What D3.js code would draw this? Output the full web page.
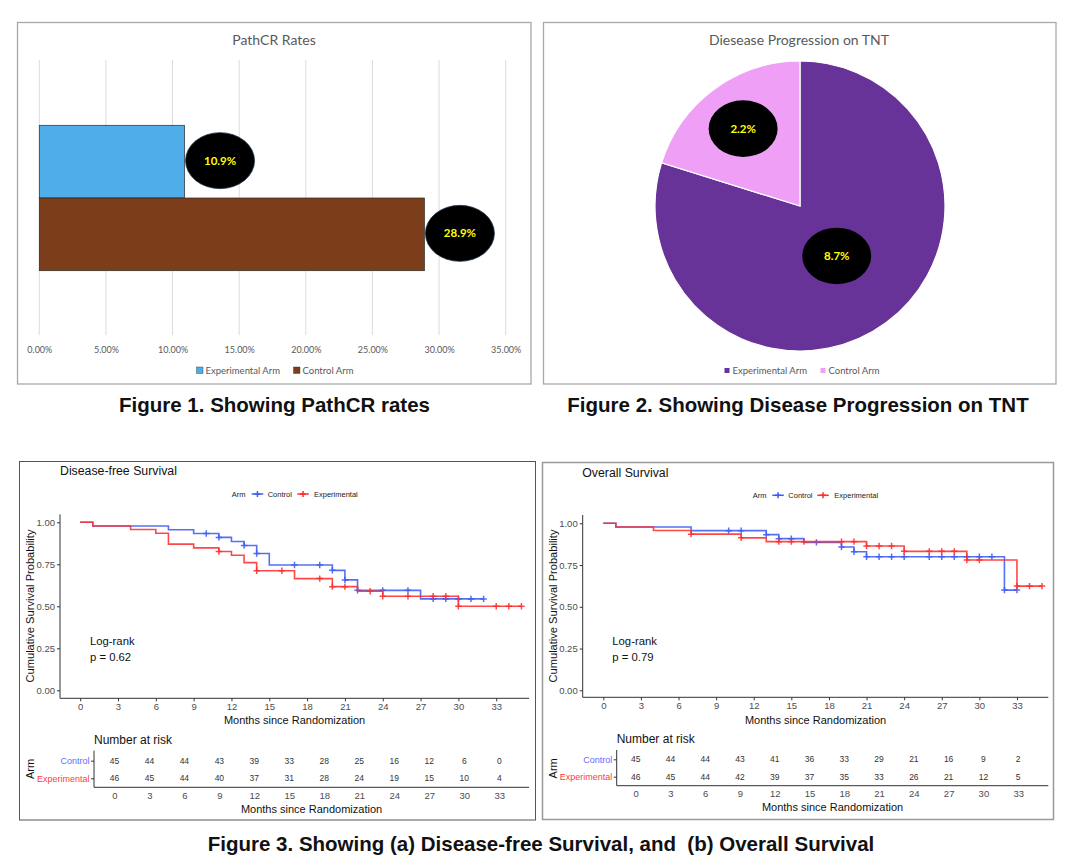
<!DOCTYPE html>
<html>
<head>
<meta charset="utf-8">
<script src="https://cdn.jsdelivr.net/npm/d3@7"></script>
<style>
	body { margin: 0; background: #fff; }
	svg { display: block; }
</style>
</head>
<body>
<script>
// ---- data ----
var pcrArms = ["Experimental Arm", "Control Arm"];
var pcrRates = [0.109, 0.289];
var pcrTicks = [0, 0.05, 0.10, 0.15, 0.20, 0.25, 0.30, 0.35];

var progArms = ["Experimental Arm", "Control Arm"];
var progRates = [8.7, 2.2];

var armNames = ["Control", "Experimental"];
var monthTicks = [0, 3, 6, 9, 12, 15, 18, 21, 24, 27, 30, 33];
var survTicks = [0, 0.25, 0.5, 0.75, 1];

// disease-free survival, step times / survival / censor times
var dfsCtrlTimes = [0, 1, 7, 9, 11, 12, 13, 14, 15, 20, 21, 22, 27, 32];
var dfsCtrlSurv = [1.0, 0.978, 0.956, 0.933, 0.910, 0.886, 0.862, 0.814, 0.746, 0.714, 0.657, 0.595, 0.544, 0.544];
var dfsCtrlCens = [10, 11, 13, 14, 17, 19, 20, 21, 22, 24, 26, 28, 29, 30, 31, 32];
var dfsExpTimes = [0, 1, 4, 6, 7, 9, 11, 12, 13, 14, 17, 20, 22, 24, 30, 35];
var dfsExpSurv = [1.0, 0.978, 0.957, 0.935, 0.870, 0.848, 0.826, 0.804, 0.760, 0.712, 0.665, 0.617, 0.590, 0.560, 0.500, 0.500];
var dfsExpCens = [11, 14, 16, 19, 20, 21, 23, 24, 26, 28, 29, 30, 33, 34, 35];
var dfsRiskCtrl = [45, 44, 44, 43, 39, 33, 28, 25, 16, 12, 6, 0];
var dfsRiskExp = [46, 45, 44, 40, 37, 31, 28, 24, 19, 15, 10, 4];

// overall survival
var osCtrlTimes = [0, 1, 7, 13, 14, 16, 19, 20, 21, 32, 33];
var osCtrlSurv = [1.0, 0.978, 0.956, 0.932, 0.908, 0.886, 0.858, 0.830, 0.800, 0.600, 0.600];
var osCtrlCens = [10, 11, 13, 14, 15, 17, 19, 20, 21, 22, 23, 24, 26, 27, 28, 29, 30, 31, 32, 33];
var osExpTimes = [0, 1, 4, 7, 11, 13, 21, 24, 29, 33, 35];
var osExpSurv = [1.0, 0.978, 0.957, 0.935, 0.913, 0.890, 0.864, 0.832, 0.780, 0.624, 0.624];
var osExpCens = [7, 11, 14, 15, 16, 19, 20, 21, 22, 23, 24, 26, 27, 28, 29, 30, 33, 34, 35];
var osRiskCtrl = [45, 44, 44, 43, 41, 36, 33, 29, 21, 16, 9, 2];
var osRiskExp = [46, 45, 44, 42, 39, 37, 35, 33, 26, 21, 12, 5];

var xlFont = "Lato, 'Open Sans', sans-serif";
var rFont = "'Liberation Sans', Arial, sans-serif";
var armColors = ["#3d5cf2", "#ff2e2e"];
var riskLabelColors = ["#5f6cff", "#ff3a3a"];

var svg = d3.select("body").append("svg")
	.attr("width", 1080)
	.attr("height", 868);

svg.append("rect").attr("width", 1080).attr("height", 868).attr("fill", "#fff");

// panel frames
svg.append("rect").attr("x", 17.5).attr("y", 22.5).attr("width", 513.5).attr("height", 361.5)
	.attr("fill", "none").attr("stroke", "#a8a8a8").attr("stroke-width", 1.3);
svg.append("rect").attr("x", 543.5).attr("y", 22.5).attr("width", 512.5).attr("height", 361.5)
	.attr("fill", "none").attr("stroke", "#a8a8a8").attr("stroke-width", 1.3);
svg.append("rect").attr("x", 19.5).attr("y", 461.5).attr("width", 516).attr("height", 358.5)
	.attr("fill", "none").attr("stroke", "#555").attr("stroke-width", 1);
svg.append("rect").attr("x", 542.5).attr("y", 462.5).attr("width", 511).attr("height", 357)
	.attr("fill", "none").attr("stroke", "#9a9a9a").attr("stroke-width", 1.5);

// ---- Figure 1: PathCR bar chart ----
var g1 = svg.append("g");
var x1 = d3.scaleLinear().domain([0, 0.35]).range([39.3, 505.7]);
var y1 = d3.scaleBand().domain(pcrArms).range([125.3, 270.7]);
var barColors = d3.scaleOrdinal().domain(pcrArms).range(["#4fadea", "#7b3d1a"]);

g1.append("text").attr("x", 274).attr("y", 45)
	.attr("text-anchor", "middle").attr("font-family", xlFont).attr("font-size", 14)
	.attr("fill", "#595959").text("PathCR Rates");

g1.selectAll("line.grid").data(pcrTicks).enter().append("line")
	.attr("x1", function(d){ return x1(d); }).attr("x2", function(d){ return x1(d); })
	.attr("y1", 60).attr("y2", 335)
	.attr("stroke", "#dcdcdc").attr("stroke-width", 1);

var ax1 = g1.append("g").attr("transform", "translate(0,344)")
	.call(d3.axisBottom(x1).tickValues(pcrTicks).tickFormat(d3.format(".2%")).tickSize(0));
ax1.select(".domain").remove();
ax1.selectAll("text").attr("font-family", xlFont).attr("font-size", 9).attr("fill", "#595959");

g1.selectAll("rect.bar").data(pcrRates).enter().append("rect")
	.attr("x", x1(0))
	.attr("y", function(d, i){ return y1(pcrArms[i]); })
	.attr("width", function(d){ return x1(d) - x1(0); })
	.attr("height", y1.bandwidth())
	.attr("fill", function(d, i){ return barColors(pcrArms[i]); })
	.attr("stroke", "#2a2a2a").attr("stroke-width", 0.7);

var lab1 = g1.selectAll("g.lab").data(pcrRates).enter().append("g")
	.attr("transform", function(d, i){
		return "translate(" + (x1(d) + 35.5) + "," + (y1(pcrArms[i]) + y1.bandwidth() / 2 - 1) + ")";
	});
lab1.append("ellipse").attr("rx", 34.5).attr("ry", 28).attr("fill", "#000")
	.attr("stroke", "#1f3550").attr("stroke-width", 0.8);
lab1.append("text").attr("text-anchor", "middle").attr("dy", "0.35em")
	.attr("font-family", xlFont).attr("font-weight", "bold").attr("font-size", 11.5)
	.attr("fill", "#ffff00").text(function(d){ return d3.format(".1%")(d); });

var leg1 = g1.selectAll("g.leg").data(pcrArms).enter().append("g")
	.attr("transform", function(d, i){ return "translate(" + [196.5, 293.5][i] + ",370.5)"; });
leg1.append("rect").attr("x", 0).attr("y", -3.5).attr("width", 6.5).attr("height", 6.5)
	.attr("fill", function(d){ return barColors(d); }).attr("stroke", "#333").attr("stroke-width", 0.4);
leg1.append("text").attr("x", 9).attr("dy", "0.35em")
	.attr("font-family", xlFont).attr("font-size", 9.5).attr("fill", "#595959")
	.text(function(d){ return d; });

svg.append("text").attr("x", 274.5).attr("y", 411.5)
	.attr("text-anchor", "middle").attr("font-family", rFont).attr("font-weight", "bold")
	.attr("font-size", 20.5).attr("fill", "#111").text("Figure 1. Showing PathCR rates");

// ---- Figure 2: pie ----
var g2 = svg.append("g");
var pieColors = d3.scaleOrdinal().domain(progArms).range(["#683398", "#efa0f6"]);
var pieR = 145;
var pieG = g2.append("g").attr("transform", "translate(800,206)");
var slices = d3.pie().sort(null).value(function(d){ return d; })(progRates);
var arc2 = d3.arc().innerRadius(0).outerRadius(pieR);
var labelRadius = [62, 96];

g2.append("text").attr("x", 799).attr("y", 45)
	.attr("text-anchor", "middle").attr("font-family", xlFont).attr("font-size", 14)
	.attr("fill", "#595959").text("Diesease Progression on TNT");

pieG.selectAll("path").data(slices).enter().append("path")
	.attr("d", arc2)
	.attr("fill", function(d, i){ return pieColors(progArms[i]); })
	.attr("stroke", "#fff").attr("stroke-width", 1.2);

var lab2 = pieG.selectAll("g.lab").data(slices).enter().append("g")
	.attr("transform", function(d, i){
		var la = d3.arc().innerRadius(labelRadius[i]).outerRadius(labelRadius[i]);
		return "translate(" + la.centroid(d) + ")";
	});
lab2.append("ellipse").attr("rx", 34.5).attr("ry", 28.3).attr("fill", "#000");
lab2.append("text").attr("text-anchor", "middle").attr("dy", "0.35em")
	.attr("font-family", xlFont).attr("font-weight", "bold").attr("font-size", 11.5)
	.attr("fill", "#ffff00").text(function(d){ return d.data + "%"; });

var leg2 = g2.selectAll("g.leg").data(progArms).enter().append("g")
	.attr("transform", function(d, i){ return "translate(" + [724.5, 820.5][i] + ",370.5)"; });
leg2.append("rect").attr("x", 0).attr("y", -2.5).attr("width", 5).attr("height", 5)
	.attr("fill", function(d){ return pieColors(d); });
leg2.append("text").attr("x", 8).attr("dy", "0.35em")
	.attr("font-family", xlFont).attr("font-size", 9.5).attr("fill", "#595959")
	.text(function(d){ return d; });

svg.append("text").attr("x", 798).attr("y", 411.5)
	.attr("text-anchor", "middle").attr("font-family", rFont).attr("font-weight", "bold")
	.attr("font-size", 20.5).attr("fill", "#111").text("Figure 2. Showing Disease Progression on TNT");

// ---- Figure 3: Kaplan-Meier panels ----
function survAt(times, surv, t){
	var i = d3.bisectRight(times, t) - 1;
	return surv[Math.max(0, i)];
}

function plusPath(px, py, s){
	return "M" + (px - s) + "," + py + "H" + (px + s) + "M" + px + "," + (py - s) + "V" + (py + s);
}

function drawKM(cfg){
	var g = svg.append("g");
	var x = d3.scaleLinear().domain(cfg.xDomain).range(cfg.xRange);
	var y = d3.scaleLinear().domain([0, 1]).range(cfg.yRange);
	var axX = cfg.xRange[0];

	g.append("text").attr("x", cfg.titleX).attr("y", cfg.titleY).attr("dy", "0.35em")
		.attr("font-family", rFont).attr("font-size", 12.3).attr("fill", "#111").text(cfg.title);

	// legend
	var lg = g.append("g").attr("transform", "translate(0," + cfg.legY + ")")
		.attr("font-family", rFont).attr("font-size", 7.5).attr("fill", "#222");
	lg.append("text").attr("x", cfg.legX[0]).attr("dy", "0.35em").text("Arm");
	armNames.forEach(function(name, i){
		var sx = cfg.legX[1 + i * 2];
		lg.append("line").attr("x1", sx).attr("x2", sx + 11.5).attr("y1", 0).attr("y2", 0)
			.attr("stroke", armColors[i]).attr("stroke-width", 1.5);
		lg.append("path").attr("d", plusPath(sx + 5.75, 0, 3))
			.attr("stroke", armColors[i]).attr("stroke-width", 1.5);
		lg.append("text").attr("x", cfg.legX[2 + i * 2]).attr("dy", "0.35em").text(name);
	});

	// axes
	g.append("line").attr("x1", axX).attr("x2", axX).attr("y1", cfg.axisTop).attr("y2", cfg.axisBottom)
		.attr("stroke", "#333").attr("stroke-width", 1);
	g.append("line").attr("x1", axX).attr("x2", cfg.xRange[1]).attr("y1", cfg.axisBottom).attr("y2", cfg.axisBottom)
		.attr("stroke", "#333").attr("stroke-width", 1);

	var yAx = g.append("g").attr("transform", "translate(" + axX + ",0)")
		.call(d3.axisLeft(y).tickValues(survTicks).tickFormat(d3.format(".2f")).tickSize(3).tickPadding(2));
	yAx.select(".domain").remove();
	yAx.selectAll("line").attr("stroke", "#333");
	yAx.selectAll("text").attr("font-family", rFont).attr("font-size", 9.5).attr("fill", "#4d4d4d");

	var xAx = g.append("g").attr("transform", "translate(0," + cfg.axisBottom + ")")
		.call(d3.axisBottom(x).tickValues(monthTicks).tickSize(3).tickPadding(2));
	xAx.select(".domain").remove();
	xAx.selectAll("line").attr("stroke", "#333");
	xAx.selectAll("text").attr("font-family", rFont).attr("font-size", 9.5).attr("fill", "#4d4d4d");

	g.append("text").attr("x", (cfg.xRange[0] + cfg.xRange[1]) / 2).attr("y", 720).attr("dy", "0.35em")
		.attr("text-anchor", "middle").attr("font-family", rFont).attr("font-size", 11).attr("fill", "#111")
		.text("Months since Randomization");
	g.append("text").attr("transform", "translate(" + cfg.yLabX + ",606) rotate(-90)").attr("dy", "0.35em")
		.attr("text-anchor", "middle").attr("font-family", rFont).attr("font-size", 11.1).attr("fill", "#111")
		.text("Cumulative Survival Probability");

	// curves
	var line = d3.line()
		.x(function(d){ return x(d[0]); })
		.y(function(d){ return y(d[1]); })
		.curve(d3.curveStepAfter);
	cfg.curves.forEach(function(c, i){
		var pts = d3.zip(c.times, c.surv);
		g.append("path").attr("d", line(pts)).attr("fill", "none")
			.attr("stroke", armColors[i]).attr("stroke-width", 1.6).attr("stroke-opacity", 0.88);
		g.append("g").selectAll("path").data(c.cens).enter().append("path")
			.attr("d", function(t){ return plusPath(x(t), y(survAt(c.times, c.surv, t)), 3.2); })
			.attr("stroke", armColors[i]).attr("stroke-width", 1.5).attr("stroke-opacity", 0.88);
	});

	g.append("text").attr("x", cfg.logX).attr("y", 640.7).attr("dy", "0.35em")
		.attr("font-family", rFont).attr("font-size", 11.3).attr("fill", "#111").text("Log-rank");
	g.append("text").attr("x", cfg.logX).attr("y", 657.3).attr("dy", "0.35em")
		.attr("font-family", rFont).attr("font-size", 11.3).attr("fill", "#111").text(cfg.pText);

	// risk table
	var r = cfg.risk;
	var rx = d3.scaleLinear().domain(r.xDomain).range(r.xRange);
	var ry = d3.scalePoint().domain(armNames).range(r.rows);
	var rAxX = r.xRange[0];

	g.append("text").attr("x", rAxX).attr("y", r.titleY).attr("dy", "0.35em")
		.attr("font-family", rFont).attr("font-size", 12).attr("fill", "#111").text("Number at risk");
	g.append("line").attr("x1", rAxX).attr("x2", rAxX).attr("y1", r.axisTop).attr("y2", r.axisBottom)
		.attr("stroke", "#333").attr("stroke-width", 1);
	g.append("line").attr("x1", rAxX).attr("x2", r.xRange[1]).attr("y1", r.axisBottom).attr("y2", r.axisBottom)
		.attr("stroke", "#333").attr("stroke-width", 1);

	var ryAx = g.append("g").attr("transform", "translate(" + rAxX + ",0)")
		.call(d3.axisLeft(ry).tickSize(3).tickPadding(1.5));
	ryAx.select(".domain").remove();
	ryAx.selectAll("line").attr("stroke", "#333");
	ryAx.selectAll("text").attr("font-family", rFont).attr("font-size", 9)
		.attr("fill", function(d, i){ return riskLabelColors[i]; });

	var rxAx = g.append("g").attr("transform", "translate(0," + r.axisBottom + ")")
		.call(d3.axisBottom(rx).tickValues(monthTicks).tickSize(0).tickPadding(5));
	rxAx.select(".domain").remove();
	rxAx.selectAll("text").attr("font-family", rFont).attr("font-size", 9.5).attr("fill", "#4d4d4d");

	[r.ctrl, r.exp].forEach(function(vals, i){
		g.append("g").selectAll("text").data(vals).enter().append("text")
			.attr("x", function(d, j){ return rx(monthTicks[j]); })
			.attr("y", ry(armNames[i])).attr("dy", "0.35em")
			.attr("text-anchor", "middle").attr("font-family", rFont).attr("font-size", 8.5)
			.attr("fill", "#333").text(function(d){ return d; });
	});

	g.append("text").attr("x", (r.xRange[0] + r.xRange[1]) / 2).attr("y", r.labY).attr("dy", "0.35em")
		.attr("text-anchor", "middle").attr("font-family", rFont).attr("font-size", 11).attr("fill", "#111")
		.text("Months since Randomization");
	g.append("text").attr("transform", "translate(" + cfg.yLabX + "," + r.armY + ") rotate(-90)").attr("dy", "0.35em")
		.attr("text-anchor", "middle").attr("font-family", rFont).attr("font-size", 11).attr("fill", "#111")
		.text("Arm");
}

drawKM({
	title: "Disease-free Survival", titleX: 60, titleY: 471,
	legY: 494, legX: [231.7, 251.7, 267.7, 297.3, 314],
	xDomain: [-1.6, 35.6], xRange: [60, 529], yRange: [690.3, 522.3],
	axisTop: 514.3, axisBottom: 698.3, yLabX: 30,
	logX: 90, pText: "p = 0.62",
	curves: [
		{times: dfsCtrlTimes, surv: dfsCtrlSurv, cens: dfsCtrlCens},
		{times: dfsExpTimes, surv: dfsExpSurv, cens: dfsExpCens}
	],
	risk: {
		xDomain: [-1.75, 35.55], xRange: [94, 529], rows: [760.7, 778.3],
		titleY: 740, axisTop: 750.7, axisBottom: 787.3, labY: 809.3, armY: 769,
		ctrl: dfsRiskCtrl, exp: dfsRiskExp
	}
});

drawKM({
	title: "Overall Survival", titleX: 582.3, titleY: 472.7,
	legY: 495.3, legX: [752.7, 772.3, 788.3, 817.3, 834.3],
	xDomain: [-1.645, 35.5], xRange: [582.7, 1048.3], yRange: [690.3, 523.3],
	axisTop: 515, axisBottom: 697.3, yLabX: 552.7,
	logX: 612.3, pText: "p = 0.79",
	curves: [
		{times: osCtrlTimes, surv: osCtrlSurv, cens: osCtrlCens},
		{times: osExpTimes, surv: osExpSurv, cens: osExpCens}
	],
	risk: {
		xDomain: [-1.64, 35.6], xRange: [616.7, 1048.3], rows: [759.3, 776.7],
		titleY: 739, axisTop: 750, axisBottom: 785.7, labY: 807.3, armY: 768.3,
		ctrl: osRiskCtrl, exp: osRiskExp
	}
});

svg.append("text").attr("x", 541).attr("y", 850.5)
	.attr("text-anchor", "middle").attr("font-family", rFont).attr("font-weight", "bold")
	.attr("font-size", 20.5).attr("fill", "#111")
	.attr("xml:space", "preserve").style("white-space", "pre")
	.text("Figure 3. Showing (a) Disease-free Survival, and  (b) Overall Survival");
</script>
</body>
</html>
